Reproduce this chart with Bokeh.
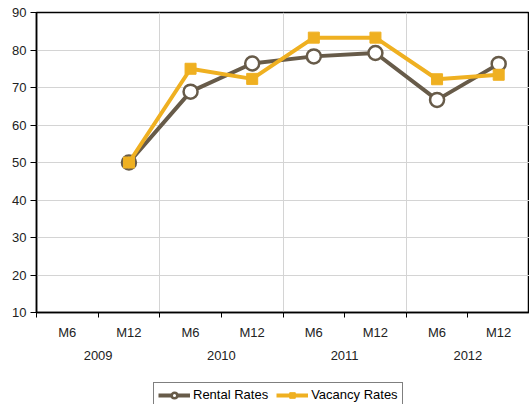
import numpy as np
from bokeh.plotting import figure
from bokeh.layouts import column
from bokeh.models import Range1d, FixedTicker, LinearAxis, Legend, LegendItem, ColumnDataSource, Grid
from bokeh.embed import file_html
from bokeh.resources import INLINE

months = ["M6", "M12", "M6", "M12", "M6", "M12", "M6", "M12"]
years = ["2009", "2010", "2011", "2012"]
rental = [np.nan, 50.0, 68.9, 76.4, 78.3, 79.2, 66.7, 76.3]
vacancy = [np.nan, 50.0, 75.0, 72.3, 83.3, 83.3, 72.2, 73.4]
y_ticks = [10, 20, 30, 40, 50, 60, 70, 80, 90]

RENTAL_C = "#675B49"
VAC_C = "#EFB021"
FONT = "Liberation Sans"

n = len(months)
xs = [i + 0.5 for i in range(n)]
src = ColumnDataSource(dict(x=xs, rental=rental, vacancy=vacancy))

p = figure(width=529, height=380, output_backend="svg", toolbar_location=None,
           x_range=Range1d(0, n), y_range=Range1d(10, 90), x_axis_type=None,
           min_border_left=36, min_border_right=0, min_border_top=12, min_border_bottom=68)
p.outline_line_color = "black"
p.outline_line_width = 1.5
p.background_fill_color = "white"
p.border_fill_color = "white"

# y axis
ya = p.yaxis[0]
ya.ticker = FixedTicker(ticks=y_ticks)
ya.axis_line_color = "black"
ya.axis_line_width = 1.5
ya.major_tick_out = 6
ya.major_tick_in = 0
ya.minor_tick_line_color = None
ya.major_label_standoff = 4
ya.major_label_text_font = FONT
ya.major_label_text_font_size = "13px"
ya.major_label_text_color = "#222222"

# month axis
month_axis = LinearAxis(
    ticker=FixedTicker(ticks=xs, minor_ticks=list(range(0, n + 1))),
    major_label_overrides={x: m for x, m in zip(xs, months)},
)
month_axis.axis_line_color = "black"
month_axis.axis_line_width = 1.5
month_axis.major_tick_line_color = None
month_axis.major_tick_out = 0
month_axis.major_tick_in = 0
month_axis.minor_tick_out = 5
month_axis.minor_tick_in = 0
month_axis.minor_tick_line_color = "black"
month_axis.major_label_standoff = 7
month_axis.major_label_text_font = FONT
month_axis.major_label_text_font_size = "13px"
month_axis.major_label_text_color = "#222222"
p.add_layout(month_axis, "below")

# year axis
year_pos = [2 * i + 1 for i in range(len(years))]
year_axis = LinearAxis(
    ticker=FixedTicker(ticks=year_pos, minor_ticks=[]),
    major_label_overrides={float(x): y for x, y in zip(year_pos, years)},
)
year_axis.axis_line_color = None
year_axis.major_tick_line_color = None
year_axis.minor_tick_line_color = None
year_axis.major_tick_out = 0
year_axis.major_label_standoff = 8
year_axis.major_label_text_font = FONT
year_axis.major_label_text_font_size = "13px"
year_axis.major_label_text_color = "#222222"
p.add_layout(year_axis, "below")

# grids
p.ygrid.visible = False
p.xgrid.visible = False
p.add_layout(Grid(dimension=1, ticker=FixedTicker(ticks=y_ticks), grid_line_color="#d4d4d4", grid_line_width=1))
p.add_layout(Grid(dimension=0, ticker=FixedTicker(ticks=[2, 4, 6]), grid_line_color="#d4d4d4", grid_line_width=1))


def draw_series(fig):
    r_line = fig.line("x", "rental", source=src, line_color=RENTAL_C, line_width=4)
    r_pts = fig.scatter("x", "rental", source=src, marker="circle", size=14, fill_color="white",
                        line_color=RENTAL_C, line_width=2.5)
    v_line = fig.line("x", "vacancy", source=src, line_color=VAC_C, line_width=4)
    v_pts = fig.scatter("x", "vacancy", source=src, marker="square", size=11, fill_color=VAC_C,
                        line_color=VAC_C, line_width=1)
    return r_line, r_pts, v_line, v_pts


draw_series(p)

# legend strip (series drawn out of view, only their legend glyphs show)
lg = figure(width=529, height=24, output_backend="svg", toolbar_location=None,
            x_range=Range1d(0, n), y_range=Range1d(1000, 1001),
            x_axis_type=None, y_axis_type=None,
            min_border_left=0, min_border_right=0, min_border_top=0, min_border_bottom=0)
lg.outline_line_color = None
lg.grid.visible = False
lg.background_fill_color = "white"
lg.border_fill_color = "white"
r_line, r_pts, v_line, v_pts = draw_series(lg)

legend = Legend(items=[LegendItem(label="Rental Rates", renderers=[r_line, r_pts]),
                       LegendItem(label="Vacancy Rates", renderers=[v_line, v_pts])],
                orientation="horizontal", location=(117, -3))
legend.label_text_font = FONT
legend.label_text_font_size = "13px"
legend.label_text_color = "black"
legend.border_line_color = "black"
legend.border_line_width = 1
legend.background_fill_alpha = 1
legend.glyph_width = 32
legend.glyph_height = 14
legend.label_standoff = 3
legend.spacing = 8
legend.padding = 4
legend.margin = 0
legend.label_height = 14
lg.add_layout(legend)

layout = column(p, lg, spacing=0)
html = file_html(layout, INLINE)
open("out.html", "w").write(html)
